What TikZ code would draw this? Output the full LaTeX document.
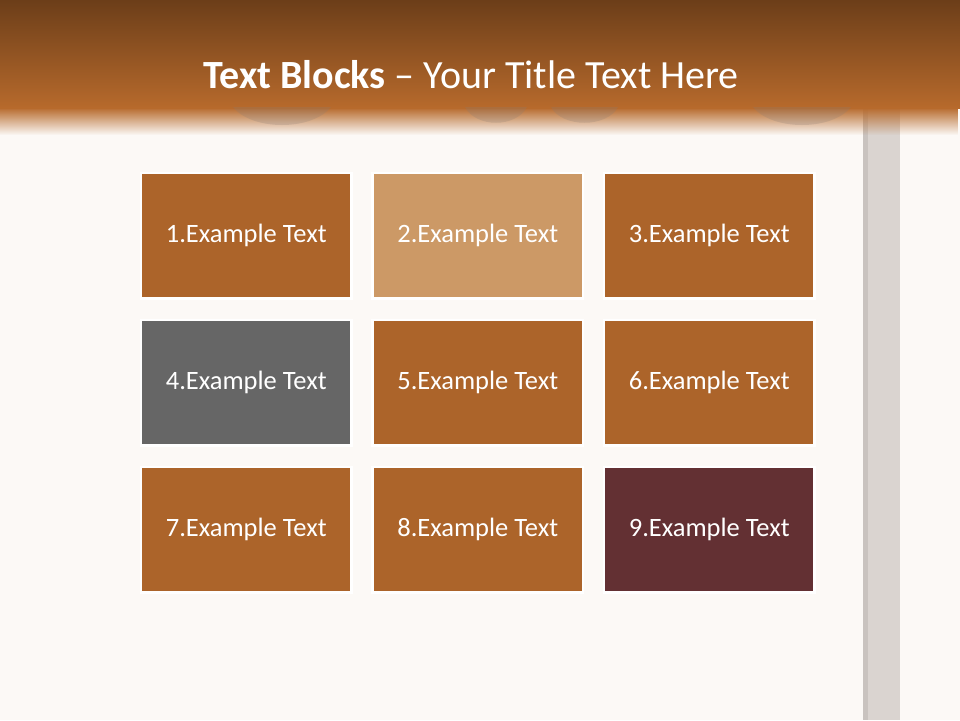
\documentclass[tikz,border=0pt]{standalone}
\usepackage{fontspec}
\usetikzlibrary{fadings}
\setmainfont{Carlito}
\definecolor{bg}{HTML}{FCF9F6}
\definecolor{hdtop}{HTML}{6C3E19}
\definecolor{hdbot}{HTML}{B76A2C}
\definecolor{boxor}{HTML}{AC642A}
\definecolor{boxlt}{HTML}{CC9966}
\definecolor{boxgr}{HTML}{666666}
\definecolor{boxmr}{HTML}{633033}
\definecolor{pole}{HTML}{DAD4D0}
\definecolor{poledk}{HTML}{C9C3BF}
\definecolor{blob}{HTML}{8A7A70}
\begin{document}
\begin{tikzpicture}[x=1pt,y=-1pt,
  tblock/.style={draw=white,line width=2.5pt,minimum width=210.5pt,minimum height=125.5pt,inner sep=0pt,
     text=white,font=\fontsize{26.5}{30}\selectfont,anchor=north west}]
\useasboundingbox (0,0) rectangle (960,720);
\fill[bg] (0,0) rectangle (960,720);
% pole
\fill[pole] (863,100) rectangle (900,720);
\fill[poledk] (863,100) rectangle (868,720);
% header
\shade[top color=hdtop,bottom color=hdbot] (0,0) rectangle (960,108);
\fill[hdbot,path fading=south] (0,107.5) rectangle (960,135);
% blobs
\begin{scope}[opacity=0.25]
\fill[blob] (233,107) .. controls (252,131) and (312,131) .. (331,107) -- cycle;
\fill[blob] (465,107) .. controls (476,128) and (516,128) .. (527,107) -- cycle;
\fill[blob] (551,107) .. controls (562,128) and (607,128) .. (618,107) -- cycle;
\fill[blob] (753,107) .. controls (772,131) and (832,131) .. (851,107) -- cycle;
\end{scope}
\node[text=white,font=\fontsize{40}{46}\selectfont] (title) at (471,75) {\textbf{Text Blocks} -- Your Title Text Here};
% blocks
\node[tblock,fill=boxor] (b1) at (139.75,171.75) {1.Example Text};
\node[tblock,fill=boxlt] (b2) at (371.25,171.75) {2.Example Text};
\node[tblock,fill=boxor] (b3) at (602.75,171.75) {3.Example Text};
\node[tblock,fill=boxgr] (b4) at (139.75,318.75) {4.Example Text};
\node[tblock,fill=boxor] (b5) at (371.25,318.75) {5.Example Text};
\node[tblock,fill=boxor] (b6) at (602.75,318.75) {6.Example Text};
\node[tblock,fill=boxor] (b7) at (139.75,465.75) {7.Example Text};
\node[tblock,fill=boxor] (b8) at (371.25,465.75) {8.Example Text};
\node[tblock,fill=boxmr] (b9) at (602.75,465.75) {9.Example Text};
\end{tikzpicture}
\end{document}
